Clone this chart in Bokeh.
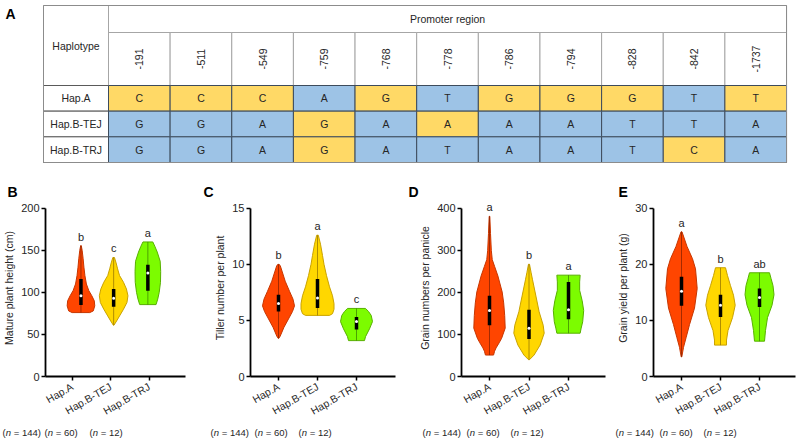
import math
from bokeh.plotting import figure
from bokeh.layouts import column, row
from bokeh.models import ColumnDataSource, Range1d, FixedTicker, Label, LabelSet
from bokeh.embed import file_html
from bokeh.resources import INLINE
from bokeh.core.properties import value

FONT = "Liberation Sans"

# ---------------- Panel A: haplotype table ----------------
positions = ["-191", "-511", "-549", "-759", "-768", "-778", "-786", "-794", "-828", "-842", "-1737"]
haplotypes = ["Hap.A", "Hap.B-TEJ", "Hap.B-TRJ"]
alleles_hapA = ["C", "C", "C", "A", "G", "T", "G", "G", "G", "T", "T"]
alleles_tej = ["G", "G", "A", "G", "A", "A", "A", "A", "T", "T", "A"]
alleles_trj = ["G", "G", "A", "G", "A", "T", "A", "A", "T", "C", "A"]
highlight_hapA = [1, 1, 1, 0, 1, 0, 1, 1, 1, 0, 1]
highlight_tej = [0, 0, 0, 1, 0, 1, 0, 0, 0, 0, 0]
highlight_trj = [0, 0, 0, 1, 0, 0, 0, 0, 0, 1, 0]
table_header = "Promoter region"
table_corner = "Haplotype"

# ---------------- Panels B-E: violins ----------------
groups = ["Hap.A", "Hap.B-TEJ", "Hap.B-TRJ"]
group_n = [144, 60, 12]

# B: Mature plant height (cm)
B_pos = [1.23, 2.08, 2.97]
B_sig = ["b", "c", "a"]
B_q1 = [85, 83, 102]
B_med = [96, 93, 123]
B_q3 = [116, 104, 133]
B_A_y = [76, 78, 84, 90, 96, 102, 110, 120, 130, 140, 150, 155.6]
B_A_w = [9, 12.5, 14, 13.5, 11, 8, 5.5, 4, 3, 2.2, 1.2, 0.3]
B_T_y = [61, 66, 72, 80, 88, 96, 104, 112, 120, 128, 135, 141.5]
B_T_w = [0.3, 3, 6, 10, 13.5, 14.5, 13, 10, 6, 4, 2.5, 0.8]
B_R_y = [85.5, 92, 100, 112, 125, 137, 148, 155, 160]
B_R_w = [8.3, 10, 11.5, 12.8, 13, 12.5, 9.5, 7, 5]

# C: Tiller number per plant
C_pos = [1, 2, 3]
C_sig = ["b", "a", "c"]
C_q1 = [5.8, 6.1, 4.2]
C_med = [6.5, 7.0, 4.9]
C_q3 = [7.3, 8.7, 5.3]
C_A_y = [3.4, 3.6, 4.4, 5.3, 5.8, 6.3, 6.9, 7.6, 8.5, 9.4, 9.9, 10.0]
C_A_w = [0.3, 1.7, 5.5, 11, 14, 16, 14.5, 11, 6.7, 3.5, 1.7, 0.5]
C_T_y = [5.45, 5.6, 6.0, 6.5, 7.2, 8.0, 9.0, 10.0, 10.8, 11.8, 12.6]
C_T_w = [12, 15, 16.5, 16.5, 15, 12, 9, 6.5, 5, 3, 0.8]
C_R_y = [3.2, 3.55, 4.25, 4.9, 5.45, 5.8, 6.07]
C_R_w = [8, 9, 13, 16, 14.7, 12, 9]

# D: Grain numbers per panicle
D_pos = [1, 2, 3]
D_sig = ["a", "b", "a"]
D_q1 = [122, 89, 136]
D_med = [157, 115, 159]
D_q3 = [192, 159, 225]
D_A_y = [51, 60, 68, 80, 91, 115, 145, 175, 201, 239, 262, 278, 300, 340, 381]
D_A_w = [4, 5, 6.5, 9.5, 12, 15.5, 15, 14, 12.5, 8.3, 5, 2.7, 1.8, 1.0, 0.3]
D_T_y = [40, 51, 75, 103, 122, 154, 201, 230, 248, 267]
D_T_w = [0.5, 5, 11, 15, 14, 10, 6, 3.5, 2, 0.5]
D_R_y = [103, 115, 130, 157, 180, 205, 225, 241]
D_R_w = [11.5, 12.5, 14, 15, 13.5, 11, 11, 11.5]

# E: Grain yield per plant (g)
E_pos = [1, 2, 3]
E_sig = ["a", "b", "ab"]
E_q1 = [12.6, 10.6, 12.4]
E_med = [15.2, 12.7, 14.1]
E_q3 = [17.8, 14.6, 15.7]
E_A_y = [3.5, 5.2, 7.0, 9.25, 12.2, 15.7, 19.2, 21, 23.2, 25.8]
E_A_w = [0.3, 2, 4.7, 8, 13, 15.7, 14, 11, 5.5, 0.5]
E_T_y = [5.6, 6.5, 8.2, 10.5, 12.7, 14.5, 16.2, 18, 19.4]
E_T_w = [6, 6, 7.5, 12, 14.7, 13, 10, 7, 5]
E_R_y = [6.3, 8.2, 10.5, 12.7, 14.6, 16.2, 17.5, 18.5]
E_R_w = [5, 6, 8, 12.5, 14.5, 13.5, 11.5, 10]

# ---------------- styles ----------------
FILL = ["#FF4500", "#FFD700", "#7CFC00"]
EDGE = ["#C63600", "#C9A200", "#58B000"]
CORE = ["#8E2300", "#9C7A00", "#3F8A00"]
YELLOW = "#FFD966"
BLUE = "#9DC3E6"
TXT = "#262626"
WIDTH_SCALE = 39.0

# ================= Table figure =================
W = 800
TH = 170
col_px = 61.64
x0 = -108 / col_px
tx_range = Range1d(x0, x0 + W / col_px)
row_px = 77 / 3
ty_range = Range1d(-(TH - 162) / row_px, 162 / row_px)
HAP_L = -65 / col_px
H2_TOP = 3 + 53 / row_px
H1_TOP = H2_TOP + 27 / row_px

t = figure(width=W, height=TH, x_range=tx_range, y_range=ty_range,
           x_axis_type=None, y_axis_type=None, output_backend="svg",
           toolbar_location=None, min_border_left=0, min_border_right=0,
           min_border_top=0, min_border_bottom=0)
t.outline_line_color = None

ncol = len(positions)
t.quad(left=[0], right=[ncol], bottom=[H2_TOP], top=[H1_TOP], fill_color="white",
       line_color="#a6a6a6", line_width=1)
t.quad(left=list(range(ncol)), right=[c + 1 for c in range(ncol)], bottom=[3] * ncol,
       top=[H2_TOP] * ncol, fill_color="white", line_color="#a6a6a6", line_width=1)
t.quad(left=[HAP_L], right=[0], bottom=[3], top=[H1_TOP], fill_color="white",
       line_color="#a6a6a6", line_width=1)

all_alleles = [alleles_hapA, alleles_tej, alleles_trj]
all_hl = [highlight_hapA, highlight_tej, highlight_trj]
cl, cr, cb, ct, cf, cx, cy, ctext = [], [], [], [], [], [], [], []
for r, (al, hl) in enumerate(zip(all_alleles, all_hl)):
    for c in range(ncol):
        cl.append(c); cr.append(c + 1)
        cb.append(2 - r); ct.append(3 - r)
        cf.append(YELLOW if hl[c] else BLUE)
        cx.append(c + 0.5); cy.append(2.5 - r); ctext.append(al[c])
t.quad(left=[HAP_L] * 3, right=[0] * 3, bottom=[2, 1, 0], top=[3, 2, 1],
       fill_color="white", line_color="#5a5a5a", line_width=1)
t.quad(left=cl, right=cr, bottom=cb, top=ct, fill_color=cf, line_color="#3d4b5c", line_width=1)
t.quad(left=[HAP_L], right=[ncol], bottom=[0], top=[H1_TOP], fill_color=None,
       line_color="#8c8c8c", line_width=1)

tk = dict(text_align="center", text_baseline="middle", text_font=value(FONT),
          text_font_size="10.5px", text_color=TXT)
t.text(x=cx, y=cy, text=ctext, **tk)
t.text(x=[HAP_L / 2] * 3, y=[2.5, 1.5, 0.5], text=haplotypes, **tk)
t.text(x=[c + 0.5 for c in range(ncol)], y=[(3 + H2_TOP) / 2] * ncol, text=positions,
       angle=math.pi / 2, **tk)
t.text(x=[ncol / 2], y=[(H2_TOP + H1_TOP) / 2], text=[table_header], **tk)
t.text(x=[HAP_L / 2], y=[(3 + H1_TOP) / 2], text=[table_corner], **tk)
t.add_layout(Label(x=x0 + 5 / col_px, y=ty_range.end - 5 / row_px, text="A", text_font=FONT,
                   text_font_size="14px", text_font_style="bold", text_baseline="top",
                   text_align="left", text_color="black"))

# ================= Violin panels =================
ROW_TOP = TH              # 170
FH = 254                  # violin figures end at page y 424
NH = 441 - TH - FH        # n-label strip
FRAME_TOP, FRAME_BOT = 208, 380
FRAME_TOP_EXT = 199


def panel(letter, ylabel, yticks, pos, profiles, q1, med, q3, sig,
          page_left, width, frame_left, frame_right, x1_px, spacing, letter_px):
    xs0 = 1 - (x1_px - frame_left) / spacing
    xe0 = xs0 + (frame_right - frame_left) / spacing
    yend = yticks[-1]
    ytop = yend * (FRAME_BOT - FRAME_TOP_EXT) / (FRAME_BOT - FRAME_TOP)

    p = figure(width=width, height=FH, x_range=Range1d(xs0, xe0), y_range=Range1d(0, ytop),
               output_backend="svg", toolbar_location=None, title=letter,
               min_border_left=frame_left - page_left,
               min_border_right=page_left + width - frame_right,
               min_border_top=FRAME_TOP_EXT - ROW_TOP,
               min_border_bottom=ROW_TOP + FH - FRAME_BOT)
    p.outline_line_color = None
    p.grid.visible = False
    p.title.text_font = FONT
    p.title.text_font_size = "14px"
    p.title.text_font_style = "bold"
    p.title.text_color = "black"
    p.title.align = "left"
    p.title.standoff = 0
    p.title.offset = letter_px - frame_left

    pxs, pys = [], []
    for i, (py_, pw_) in enumerate(profiles):
        w = [v / WIDTH_SCALE for v in pw_]
        pxs.append([pos[i] - v for v in w] + [pos[i] + v for v in reversed(w)])
        pys.append(list(py_) + list(reversed(py_)))
    p.patches(xs=pxs, ys=pys, fill_color=FILL, line_color=EDGE, line_width=1)
    p.segment(x0=pos, x1=pos, y0=[min(pr[0]) for pr in profiles],
              y1=[max(pr[0]) for pr in profiles], line_color=CORE, line_width=0.8)
    p.segment(x0=pos, x1=pos, y0=q1, y1=q3, line_color="black", line_width=3.5)
    p.scatter(x=pos, y=med, size=3, marker="circle", fill_color="white", line_color=None)

    src = ColumnDataSource(dict(x=pos, y=[max(pr[0]) for pr in profiles], t=sig))
    p.add_layout(LabelSet(x="x", y="y", text="t", source=src, y_offset=3,
                          text_align="center", text_baseline="bottom",
                          text_font=value(FONT), text_font_size="11px", text_color=TXT))

    p.yaxis.ticker = FixedTicker(ticks=yticks)
    p.yaxis.bounds = (0, yend)
    p.xaxis.ticker = FixedTicker(ticks=[1, 2, 3])
    p.xaxis.major_label_overrides = {1: groups[0], 2: groups[1], 3: groups[2]}
    p.xaxis.major_label_orientation = math.pi / 6
    for ax in (p.xaxis, p.yaxis):
        ax.axis_line_width = 1.8
        ax.axis_line_color = "black"
        ax.major_tick_line_width = 1.5
        ax.major_tick_out = 4
        ax.major_tick_in = 0
        ax.minor_tick_line_color = None
        ax.major_label_text_font = FONT
        ax.major_label_text_color = TXT
    p.yaxis.major_label_standoff = 2
    p.xaxis.major_label_standoff = 5
    p.yaxis.major_label_text_font_size = "11px"
    p.xaxis.major_label_text_font_size = "10.5px"
    p.yaxis.axis_label = ylabel
    p.yaxis.axis_label_text_font = FONT
    p.yaxis.axis_label_text_font_size = "10.5px"
    p.yaxis.axis_label_text_font_style = "normal"
    p.yaxis.axis_label_text_color = TXT
    p.yaxis.axis_label_standoff = 3
    return p


fB = panel("B", "Mature plant height (cm)", [0, 50, 100, 150, 200], B_pos,
           [(B_A_y, B_A_w), (B_T_y, B_T_w), (B_R_y, B_R_w)], B_q1, B_med, B_q3, B_sig,
           page_left=0, width=198, frame_left=43, frame_right=185, x1_px=70, spacing=39,
           letter_px=5)
fC = panel("C", "Tiller number per plant", [0, 5, 10, 15], C_pos,
           [(C_A_y, C_A_w), (C_T_y, C_T_w), (C_R_y, C_R_w)], C_q1, C_med, C_q3, C_sig,
           page_left=198, width=202, frame_left=250, frame_right=395, x1_px=278, spacing=39,
           letter_px=203)
fD = panel("D", "Grain numbers per panicle", [0, 100, 200, 300, 400], D_pos,
           [(D_A_y, D_A_w), (D_T_y, D_T_w), (D_R_y, D_R_w)], D_q1, D_med, D_q3, D_sig,
           page_left=400, width=210, frame_left=461, frame_right=605, x1_px=489, spacing=39.5,
           letter_px=408)
fE = panel("E", "Grain yield per plant (g)", [0, 10, 20, 30], E_pos,
           [(E_A_y, E_A_w), (E_T_y, E_T_w), (E_R_y, E_R_w)], E_q1, E_med, E_q3, E_sig,
           page_left=610, width=190, frame_left=653, frame_right=795, x1_px=681, spacing=39,
           letter_px=618)

# ================= sample-size strip =================
n_starts = [2, 210, 422, 615]
n_gaps = [[0, 42, 87], [0, 44, 88], [0, 44, 88], [0, 44, 88]]
nf = figure(width=W, height=NH, x_range=Range1d(0, W), y_range=Range1d(0, 1),
            x_axis_type=None, y_axis_type=None, output_backend="svg",
            toolbar_location=None, min_border_left=0, min_border_right=0,
            min_border_top=0, min_border_bottom=0)
nf.outline_line_color = None
ox, nx, rx, rtext = [], [], [], []
for s, gaps in zip(n_starts, n_gaps):
    for g, n in zip(gaps, group_n):
        ox.append(s + g)
        nx.append(s + g + 3.2)
        rx.append(s + g + 11.3)
        rtext.append(f"= {n})")
kw = dict(text_baseline="middle", text_align="left", text_font=value(FONT),
          text_font_size="9.5px", text_color=TXT)
ny = [0.55] * len(ox)
nf.text(x=ox, y=ny, text=["("] * len(ox), **kw)
nf.text(x=nx, y=ny, text=["n"] * len(nx), text_font_style="italic", **kw)
nf.text(x=rx, y=ny, text=rtext, **kw)

layout = column(t, row(fB, fC, fD, fE), nf)
open("out.html", "w").write(file_html(layout, INLINE, "Haplotype figure"))
